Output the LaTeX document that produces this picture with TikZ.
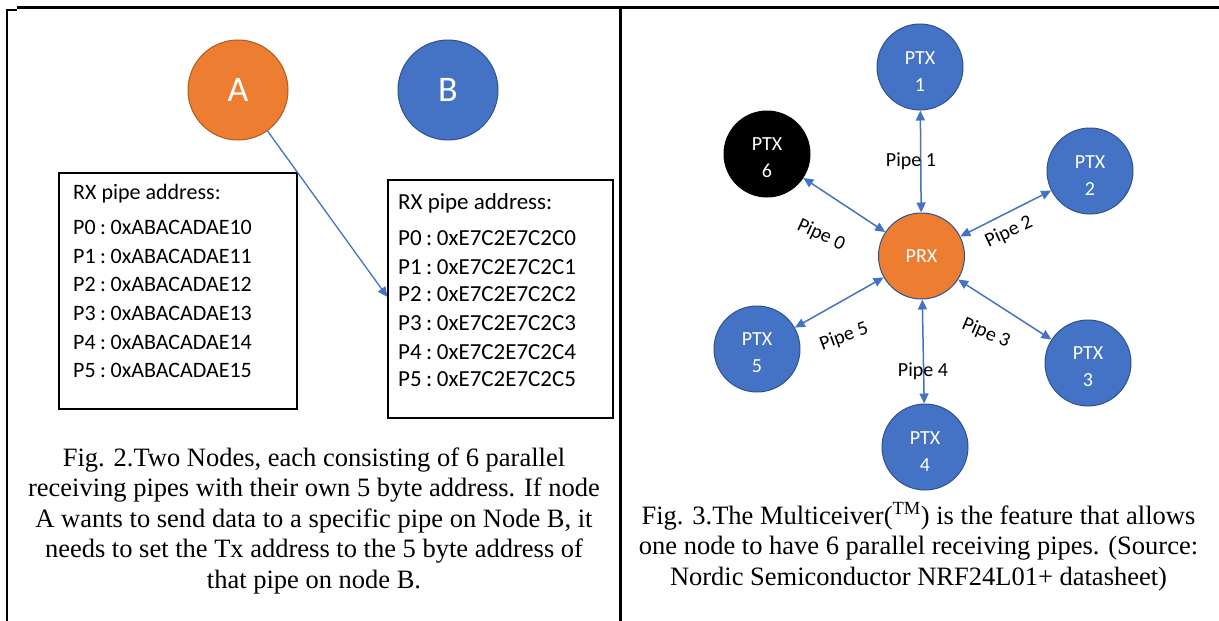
\documentclass[tikz,border=0pt]{standalone}
\usepackage{fontspec}
\setmainfont{Liberation Serif}
\newfontfamily\carl{Carlito}
\usetikzlibrary{arrows.meta}
\definecolor{oblue}{HTML}{4472C4}
\definecolor{oblueb}{HTML}{2F528F}
\definecolor{oorange}{HTML}{ED7D31}
\definecolor{oorangeb}{HTML}{AE5A21}
\newcommand\ptxstrut{\rule{0pt}{21pt}}
\newcommand\sep{\hspace{4.5pt}:\hspace{4.5pt}}
\begin{document}
\begin{tikzpicture}[x=1pt,y=-1pt,
  ptx/.style={circle,fill=oblue,draw=oblueb,line width=1pt,minimum size=86pt,inner sep=0pt,
    text=white,font=\carl\fontsize{20}{27}\selectfont,align=center},
  prx/.style={ptx,fill=oorange},
  bignode/.style={circle,line width=1pt,minimum size=100pt,inner sep=0pt,text=white,
    font=\carl\fontsize{36}{40}\selectfont},
  addrbox/.style={draw=black,line width=1.1pt,inner sep=0pt},
  addrlineA/.style={anchor=base west,inner sep=0pt,font=\carl\fontsize{22}{26}\selectfont},
  addrlineB/.style={anchor=base west,inner sep=0pt,font=\carl\fontsize{23}{28}\selectfont},
  capline/.style={anchor=base,inner sep=0pt,font=\fontsize{26.5}{30}\selectfont},
  pipelab/.style={inner sep=0pt,font=\carl\fontsize{20}{24}\selectfont},
  pipe/.style={draw=oblue,line width=1.5pt,{Triangle[length=10pt,width=9pt]}-{Triangle[length=10pt,width=9pt]}},
  onepipe/.style={draw=oblue,line width=1.3pt,-{Triangle[length=10pt,width=9pt]}},
  frame/.style={draw=black,line width=2.6pt}
]
\useasboundingbox (0,0) rectangle (1219,621);
\fill[white] (0,0) rectangle (1219,621);

% frame lines
\coordinate (ftl) at (17,7.5);
\coordinate (ftr) at (1219,7.5);
\coordinate (fsl) at (5.5,9.8);
\coordinate (fsr) at (17,9.8);
\coordinate (flt) at (7,8.5);
\coordinate (flb) at (7,621);
\coordinate (fmt) at (620.5,7);
\coordinate (fmb) at (620.5,621);
\draw[frame,line width=3pt] (ftl) -- (ftr);
\draw[frame,line width=1.6pt] (fsl) -- (fsr);
\draw[frame] (flt) -- (flb);
\draw[frame] (fmt) -- (fmb);
% orange fragments at top right
\fill[oorange] (1137,0) arc[start angle=180,end angle=360,x radius=5,y radius=2.6];
\fill[oorange] (1157,0) arc[start angle=180,end angle=360,x radius=5,y radius=2.6];

% ---------- left panel ----------
\node[bignode,fill=oorange,draw=oorangeb] (A) at (238,90) {A};
\node[bignode,fill=oblue,draw=oblueb] (B) at (448,90) {B};

\node[addrbox,minimum width=238pt,minimum height=236pt] (boxA) at (178,291) {};
\node[addrbox,minimum width=225pt,minimum height=238pt] (boxB) at (500.5,299) {};

\foreach \t/\yy [count=\i] in {RX pipe address:/199, P0\sep0xABACADAE10/234, P1\sep0xABACADAE11/263,
  P2\sep0xABACADAE12/291, P3\sep0xABACADAE13/320, P4\sep0xABACADAE14/349, P5\sep0xABACADAE15/377}
  \node[addrlineA] (la\i) at (73,\yy) {\t};
\foreach \t/\yy [count=\i] in {RX pipe address:/209, P0\sep0xE7C2E7C2C0/245, P1\sep0xE7C2E7C2C1/274,
  P2\sep0xE7C2E7C2C2/301, P3\sep0xE7C2E7C2C3/330, P4\sep0xE7C2E7C2C4/359, P5\sep0xE7C2E7C2C5/386}
  \node[addrlineB] (lb\i) at (398,\yy) {\t};

\coordinate (tipB) at (boxB.west |- 0,297);
\draw[onepipe] (A) -- (tipB);

\node[capline] (c21) at (314,466) {Fig. 2.Two Nodes, each consisting of 6 parallel};
\node[capline] (c22) at (314,496.5) {receiving pipes with their own 5 byte address. If node};
\node[capline] (c23) at (314,527) {A wants to send data to a specific pipe on Node B, it};
\node[capline] (c24) at (314,557.5) {needs to set the Tx address to the 5 byte address of};
\node[capline] (c25) at (314,588) {that pipe on node B.};

% ---------- right panel ----------
\node[prx] (PRX) at (921.5,256) {PRX};
\node[ptx] (P1) at (920,67) {\ptxstrut PTX\\1};
\node[ptx] (P2) at (1090,171) {\ptxstrut PTX\\2};
\node[ptx] (P3) at (1088,363) {\ptxstrut PTX\\3};
\node[ptx] (P4) at (925,447) {\ptxstrut PTX\\4};
\node[ptx] (P5) at (757,349) {\ptxstrut PTX\\5};
\node[ptx,fill=black,draw=black] (P6) at (767,154) {\ptxstrut PTX\\6};

\draw[pipe] (PRX) -- (P1);
\draw[pipe] (PRX) -- (P2);
\draw[pipe] (PRX) -- (P3);
\draw[pipe] (PRX) -- (P4);
\draw[pipe] (PRX) -- (P5);
\draw[pipe] (PRX) -- (P6);

\node[pipelab] (l1) at (911,161) {Pipe 1};
\node[pipelab,rotate=-25] (l0) at (821,235) {Pipe 0};
\node[pipelab,rotate=25] (l2) at (1009,232) {Pipe 2};
\node[pipelab,rotate=20] (l5) at (844,337) {Pipe 5};
\node[pipelab,rotate=-23] (l3) at (986,333) {Pipe 3};
\node[pipelab] (l4) at (923,371) {Pipe 4};

\node[capline] (c31) at (918.5,524) {Fig. 3.The Multiceiver(\textsuperscript{TM}) is the feature that allows};
\node[capline] (c32) at (918.5,554.5) {one node to have 6 parallel receiving pipes. (Source:};
\node[capline] (c33) at (918.5,585) {Nordic Semiconductor NRF24L01+ datasheet)};
\end{tikzpicture}
\end{document}
